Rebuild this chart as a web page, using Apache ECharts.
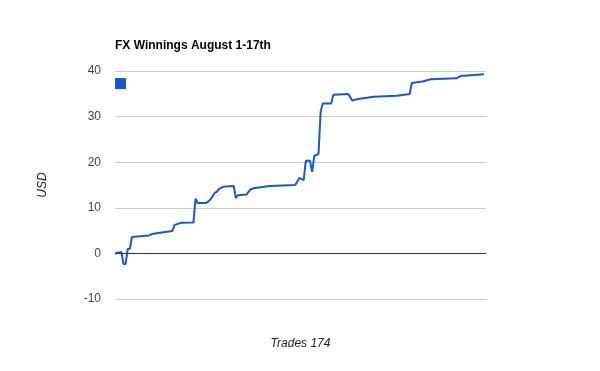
<!DOCTYPE html>
<html>
<head>
<meta charset="utf-8">
<script src="https://cdn.jsdelivr.net/npm/echarts@6/dist/echarts.min.js"></script>
<style>html,body{margin:0;padding:0;background:#fff}#c{width:600px;height:371px}</style>
</head>
<body>
<div id="c"></div>
<script>
// Trade number at each vertex of the line, and running USD winnings there
var trades = [0, 3, 4, 5, 6, 7, 8, 16, 18, 27, 28, 31, 37, 38, 39, 43, 44, 45, 47, 48, 49, 51, 56, 57, 58, 62, 64, 66, 73, 85, 87, 89, 90, 92, 93, 94, 96, 97, 98, 102, 103, 110, 112, 114, 122, 133, 139, 140, 145, 149, 161, 163, 171, 174];
var usd = [0, 0.3, -2.3, -2.3, 0.95, 1.0, 3.6, 3.95, 4.3, 4.9, 6.2, 6.7, 6.75, 12.0, 11.05, 11.05, 11.4, 11.8, 13.25, 13.5, 14.07, 14.6, 14.8, 12.15, 12.75, 12.9, 14.07, 14.35, 14.8, 15.0, 16.55, 16.05, 20.3, 20.3, 17.9, 21.4, 21.8, 31.05, 32.9, 32.9, 34.8, 34.95, 33.5, 33.8, 34.35, 34.57, 34.95, 37.35, 37.7, 38.2, 38.4, 38.9, 39.2, 39.3];
var yTicks = [-10, 0, 10, 20, 30, 40];
var titleText = 'FX Winnings August 1-17th';
var xName = 'Trades 174';
var yName = 'USD';

var points = trades.map(function (t, i) { return [t, usd[i]]; });
var chart = echarts.init(document.getElementById('c'));
chart.setOption({
  animation: false,
  textStyle: { fontFamily: 'Liberation Sans, Arial, sans-serif' },
  title: {
    text: titleText, left: 110, top: 35,
    textStyle: { fontSize: 12, fontWeight: 'bold', color: '#000', fontFamily: 'Liberation Sans, Arial, sans-serif' }
  },
  legend: {
    left: 110, top: 73, itemWidth: 11, itemHeight: 11, icon: 'rect',
    formatter: function () { return ''; },
    data: [{ name: 'USD' }]
  },
  grid: { left: 115, right: 114, top: 71, bottom: 72, containLabel: false },
  xAxis: {
    type: 'value', min: 0, max: 175,
    name: xName, nameLocation: 'middle', nameGap: 39,
    nameTextStyle: { fontStyle: 'italic', fontSize: 12, color: '#222' },
    axisLine: { show: false, onZero: false }, axisTick: { show: false },
    axisLabel: { show: false }, splitLine: { show: false }
  },
  yAxis: {
    type: 'value', min: yTicks[0], max: yTicks[yTicks.length - 1], interval: 10,
    name: yName, nameLocation: 'middle', nameGap: 66, nameRotate: 90,
    nameTextStyle: { fontStyle: 'italic', fontSize: 12, color: '#222' },
    axisLine: { show: false }, axisTick: { show: false },
    axisLabel: { fontSize: 12, color: '#444', margin: 14 },
    splitLine: { lineStyle: { color: '#cccccc', width: 1 } }
  },
  series: [{
    name: 'USD', type: 'line', data: points, showSymbol: false, symbol: 'none',
    itemStyle: { color: '#1a56cc' },
    lineStyle: { color: '#1a56cc', width: 2 },
    markLine: {
      silent: true, symbol: 'none', label: { show: false },
      lineStyle: { color: '#333', width: 1, type: 'solid' },
      data: [{ yAxis: 0 }]
    }
  }]
});
</script>
</body>
</html>
